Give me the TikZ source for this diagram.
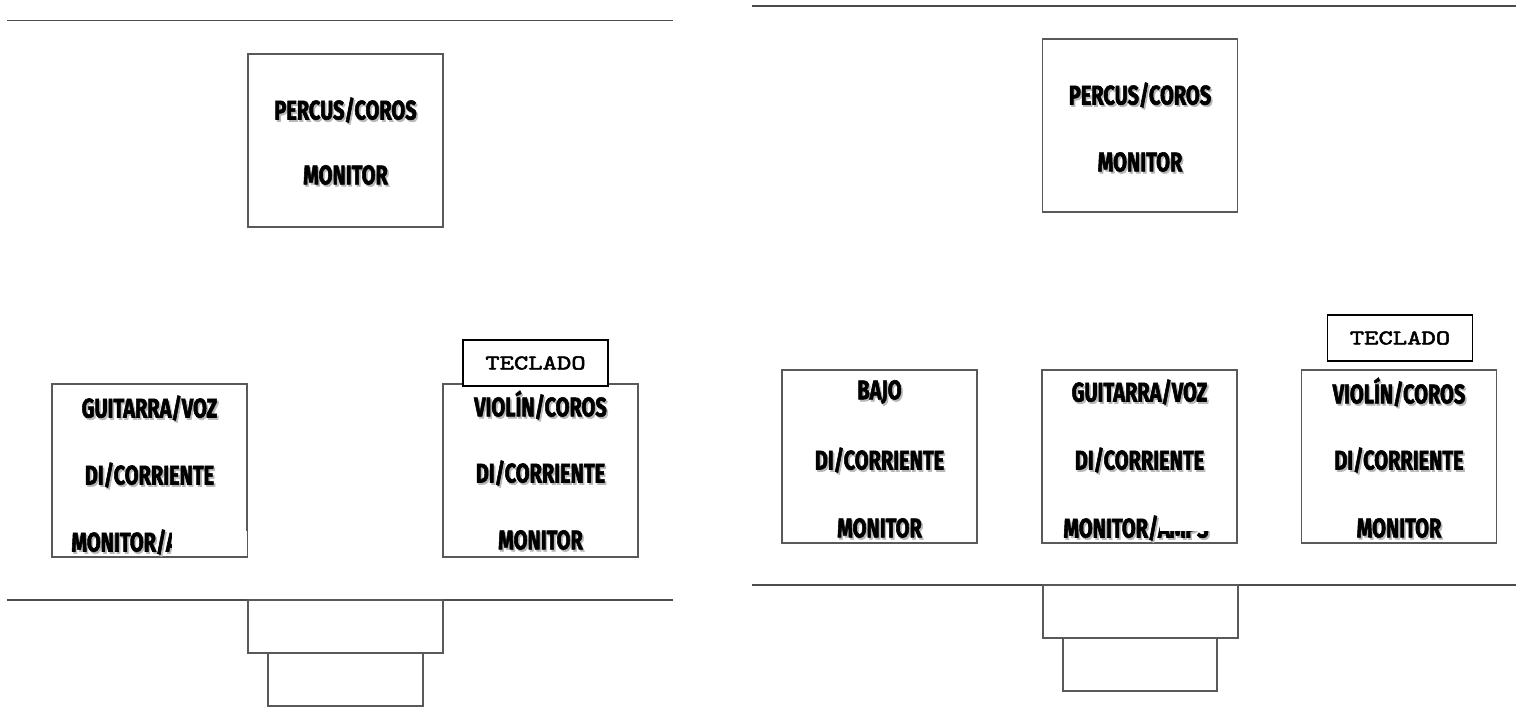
\documentclass[tikz,border=0pt]{standalone}
\usepackage{fontspec}
\newfontfamily\handfont{Fira Sans}[FakeStretch=0.74, BoldFeatures={FakeBold=2}]
\newfontfamily\keyfont{lmmono10-regular.otf}[FakeBold=2.5, FakeStretch=1.3]
\tikzset{
  pane/.style={draw=black!65, line width=0.8pt, fill=white, inner sep=0pt},
  mon/.style={pane, minimum width=97.5pt, minimum height=86.5pt},
  riser/.style={pane, minimum height=26.5pt},
  stageline/.style={draw=black!70, line width=0.9pt},
  lab/.style={font=\handfont\bfseries\fontsize{13.5}{13.5}\selectfont, inner sep=0pt},
  labshadow/.style={lab, text=black!28, xshift=0.8pt, yshift=-1pt},
  key/.style={draw=black, line width=0.7pt, fill=white, inner sep=0pt,
    minimum width=72.5pt, minimum height=23pt,
    font=\keyfont\fontsize{10.5}{10.5}\selectfont},
  patch/.style={fill=white, draw=none}
}
\newcommand\planlabel[4][]{%
  \node[labshadow,#1] at #3 {#4};
  \node[lab,#1] (#2) at #3 {#4};}
\begin{document}
\begin{tikzpicture}[x=0.5pt,y=-0.5pt]
\useasboundingbox (0,0) rectangle (1516,707);
\fill[white] (0,0) rectangle (1516,707);

% ---------- left plan ----------
\coordinate (lt1) at (7,20.5);   \coordinate (lt2) at (673,20.5);
\coordinate (lb1) at (7,600);    \coordinate (lb2) at (673,600);
\draw[stageline] (lt1) -- (lt2);
\draw[stageline] (lb1) -- (lb2);

\node[mon] (percL) at (345.5,140.5) {};
\planlabel{percLa}{(345.5,110)}{PERCUS/COROS}
\planlabel{percLb}{(345.5,175)}{MONITOR}

\node[mon] (guitL) at (149.5,470.5) {};
\planlabel{guitLa}{(149.5,408)}{GUITARRA/VOZ}
\planlabel{guitLb}{(149.5,475)}{DI/CORRIENTE}
\planlabel[anchor=west]{guitLc}{(71,542)}{MONITOR/AMPS}
\fill[patch] (172,531) rectangle (247,555.5);

\node[mon] (violL) at (540.5,470.5) {};
\planlabel{violLa}{(540.5,405)}{VIOLÍN/COROS}
\planlabel{violLb}{(540.5,473)}{DI/CORRIENTE}
\planlabel{violLc}{(540.5,540)}{MONITOR}
\node[key] (teclL) at (535.5,363) {TECLADO};

\node[riser, minimum width=97.5pt] (stL1) at (345.5,626.5) {};
\node[riser, minimum width=77.5pt] (stL2) at (345.5,679.5) {};

% ---------- right plan ----------
\coordinate (rt1) at (752,6);    \coordinate (rt2) at (1516,6);
\coordinate (rb1) at (752,585);  \coordinate (rb2) at (1516,585);
\draw[stageline] (rt1) -- (rt2);
\draw[stageline] (rb1) -- (rb2);

\node[mon] (percR) at (1140,125.5) {};
\planlabel{percRa}{(1140,95)}{PERCUS/COROS}
\planlabel{percRb}{(1140,162)}{MONITOR}

\node[mon] (bajo) at (879.5,456.5) {};
\planlabel{bajoa}{(879.5,392)}{BAJO}
\planlabel{bajob}{(879.5,460)}{DI/CORRIENTE}
\planlabel{bajoc}{(879.5,528)}{MONITOR}

\node[mon] (guitR) at (1139.5,456.5) {};
\planlabel{guitRa}{(1139.5,392)}{GUITARRA/VOZ}
\planlabel{guitRb}{(1139.5,460)}{DI/CORRIENTE}
\planlabel[anchor=west]{guitRc}{(1063,528)}{MONITOR/AMPS}
\fill[patch] (1160,506) rectangle (1236,531);

\node[mon] (violR) at (1399,456.5) {};
\planlabel{violRa}{(1399,392)}{VIOLÍN/COROS}
\planlabel{violRb}{(1399,460)}{DI/CORRIENTE}
\planlabel{violRc}{(1399,528)}{MONITOR}
\node[key] (teclR) at (1400,338) {TECLADO};

\node[riser, minimum width=97.5pt] (stR1) at (1140.5,611.5) {};
\node[riser, minimum width=77pt] (stR2) at (1140,664.5) {};
\end{tikzpicture}
\end{document}
